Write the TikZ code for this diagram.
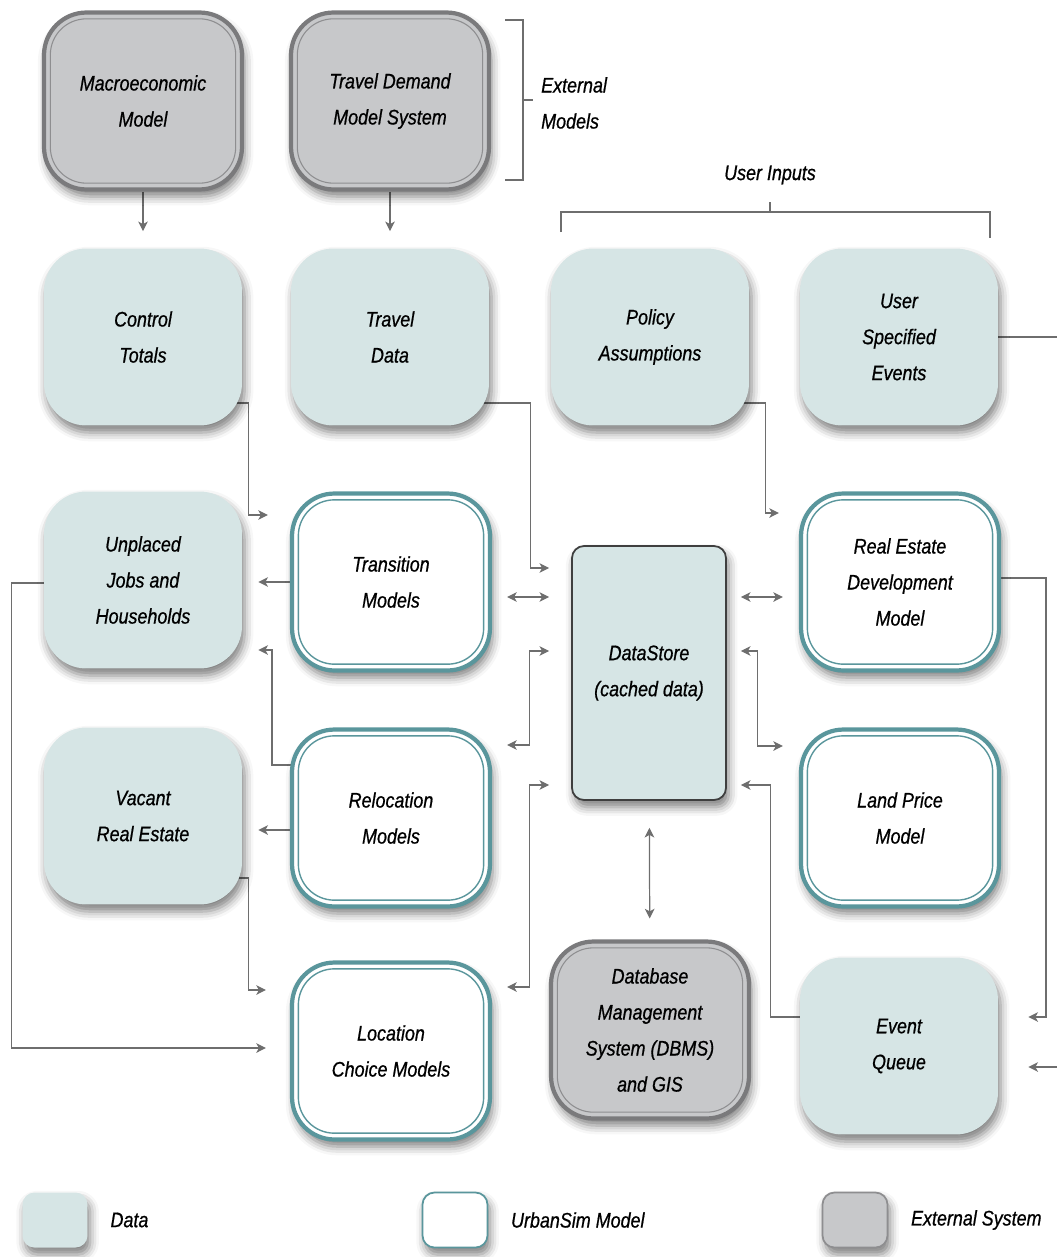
\documentclass[tikz,border=0pt]{standalone}
\usepackage{fontspec}
\newfontfamily\diagfont{Liberation Sans}[FakeStretch=0.85, FakeBold=0.7]
\usepackage{tikz}
\usetikzlibrary{arrows.meta,positioning,calc,backgrounds,shadows.blur}

\definecolor{datafill}{HTML}{D6E5E5}
\definecolor{modteal}{HTML}{5A969C}
\definecolor{extfill}{HTML}{C7C8CA}
\definecolor{extline}{HTML}{7A7A7C}
\definecolor{linkgray}{HTML}{6E6E6E}
\definecolor{storeline}{HTML}{3F3F3F}

\begin{document}
\begin{tikzpicture}[x=0.02cm, y=-0.02cm,
    lbl/.style={font=\diagfont\itshape\fontsize{12}{20.5}\selectfont, text=black, align=center},
    shade/.style={blur shadow={shadow xshift=1.5pt, shadow yshift=-4pt, shadow blur radius=5pt, shadow opacity=50}},
    box/.style={lbl, shade, minimum width=3.96cm, minimum height=3.54cm, inner sep=0pt, rounded corners=0.85cm},
    data/.style={box, fill=datafill},
    model/.style={box, fill=white, draw=modteal, line width=2.4pt,
        path picture={\draw[modteal, line width=0.8pt, rounded corners=0.72cm]
            ($(path picture bounding box.south west)+(3.6pt,3.6pt)$) rectangle
            ($(path picture bounding box.north east)+(-3.6pt,-3.6pt)$);}},
    ext/.style={box, fill=extfill, draw=extline, line width=2.4pt,
        path picture={\draw[extline!85, line width=0.6pt, rounded corners=0.72cm]
            ($(path picture bounding box.south west)+(3.6pt,3.6pt)$) rectangle
            ($(path picture bounding box.north east)+(-3.6pt,-3.6pt)$);}},
    store/.style={lbl, shade, fill=datafill, draw=storeline, line width=1pt, rounded corners=0.24cm, minimum width=3.08cm, minimum height=5.08cm},
    swatch/.style={shade, minimum width=1.3cm, minimum height=1.1cm, rounded corners=0.24cm},
    arr/.style={-{Stealth[length=5.5pt, width=5.5pt, inset=1.5pt]}, line width=0.7pt, linkgray},
    darr/.style={{Stealth[length=5.5pt, width=5.5pt, inset=1.5pt]}-{Stealth[length=5.5pt, width=5.5pt, inset=1.5pt]}, line width=0.7pt, linkgray},
    brk/.style={draw=linkgray, line width=0.7pt}
]
\useasboundingbox (0,0) rectangle (1056,1257);

\node[ext] (macro) at (143,101) {Macroeconomic\\Model};
\node[ext] (tdm) at (390,101) {Travel Demand\\Model System};

\node[data] (ctrl) at (143,337) {Control\\Totals};
\node[data] (tdata) at (390,337) {Travel\\Data};
\node[data] (policy) at (650,337) {Policy\\Assumptions};
\node[data] (uevents) at (899,337) {User\\Specified\\Events};

\node[data] (unplaced) at (143,580) {Unplaced\\Jobs and\\Households};
\node[model] (trans) at (391,582) {Transition\\Models};
\node[store] (store) at (649,673) {DataStore\\(cached data)};
\node[model] (redev) at (900,582) {Real Estate\\Development\\Model};

\node[data] (vacant) at (143,816) {Vacant\\Real Estate};
\node[model] (reloc) at (391,818) {Relocation\\Models};
\node[model] (lprice) at (900,818) {Land Price\\Model};

\node[model] (loc) at (391,1051) {Location\\Choice Models};
\node[ext] (dbms) at (650,1030) {Database\\Management\\System (DBMS)\\and GIS};
\node[data] (equeue) at (899,1046) {Event\\Queue};

% brackets
\node[lbl, anchor=west, align=left] (extlbl) at (535,103) {External\\Models};
\draw[brk] (505,20) -| (523,180) -- (505,180);
\draw[brk] (523,100) -- (533,100);
\node[lbl] (userlbl) at (770,175) {User Inputs};
\draw[brk] (561,232) |- (990,212) -- (990,238);
\draw[brk] (770,212) -- (770,202);

% legend
\node[swatch, fill=datafill] (lgdata) at (55,1220) {};
\node[lbl, right=0.33cm of lgdata] (lgdatatxt) {Data};
\node[swatch, fill=white, draw=modteal, line width=1pt] (lgmodel) at (455,1220) {};
\node[lbl, right=0.33cm of lgmodel] (lgmodeltxt) {UrbanSim Model};
\node[swatch, fill=extfill, draw=extline!85, line width=1pt] (lgext) at (855,1220) {};
\node[lbl, right=0.33cm of lgext] (lgexttxt) {External System};

\begin{scope}[on background layer]
\draw[arr, shorten >=0.34cm] (macro) -- (ctrl);
\draw[arr, shorten >=0.34cm] (tdm) -- (tdata);
\draw[arr] ($(ctrl.east)+(-10,66)$) -- ++(16,0) |- ($(trans.west)+(-22,-67)$);
\draw[arr] ($(tdata.east)+(-10,66)$) -- ++(51,0) |- ($(store.west)+(-22,-105)$);
\draw[darr] ($(trans.east)+(15,15)$) -- ($(store.west)+(-22,-76)$);
\draw[arr] (trans.west) -- ($(unplaced.east)+(16,2)$);
\draw[arr] ($(reloc.west)+(4,-53)$) -- ++(-22,0) |- ($(unplaced.east)+(16,70)$);
\draw[darr] ($(store.west)+(-22,-22)$) -- ++(-20,0) |- ($(reloc.east)+(15,-73)$);
\draw[darr] ($(store.west)+(-22,112)$) -- ++(-20,0) |- ($(loc.east)+(15,-64)$);
\draw[darr, shorten <=0.54cm, shorten >=0.42cm] (store) -- (dbms);
\draw[arr] ($(vacant.east)+(-10,62)$) -- ++(16,0) |- ($(loc.west)+(-24,-61)$);
\draw[arr] ($(unplaced.west)+(8,3)$) -- ++(-40,0) |- ($(loc.west)+(-24,-3)$);
\draw[arr] ($(reloc.west)+(0,12)$) -- ($(vacant.east)+(16,14)$);
\draw[arr] ($(policy.east)+(-10,66)$) -- ++(26,0) |- ($(redev.west)+(-20,-69)$);
\draw[darr] ($(store.east)+(14,-76)$) -- ($(redev.west)+(-16,15)$);
\draw[darr] ($(store.east)+(14,-22)$) -- ++(17,0) |- ($(lprice.west)+(-16,-72)$);
\draw[arr] ($(equeue.west)+(4,-29)$) -- ++(-33,0) |- ($(store.east)+(14,112)$);
\draw[arr] ($(redev.east)+(-4,-4)$) -- ++(49,0) |- ($(equeue.east)+(30,-29)$);
\draw[arr] ($(uevents.east)+(-4,0)$) -- ++(75,0) |- ($(equeue.east)+(30,21)$);
\end{scope}
\end{tikzpicture}
\end{document}
